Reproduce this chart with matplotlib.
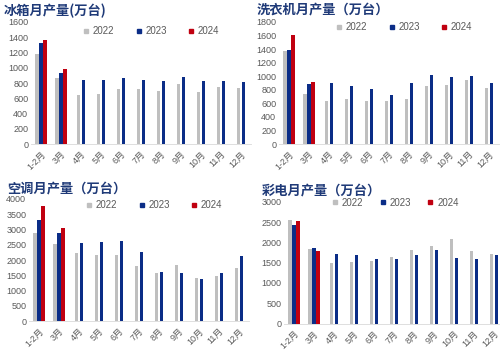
import numpy as np
import matplotlib
matplotlib.use("Agg")
import matplotlib.pyplot as plt
from matplotlib.lines import Line2D

plt.rcParams['font.family'] = ['Liberation Sans', 'Noto Sans CJK SC', 'DejaVu Sans']

# 数据 (万台)
months = ["1-2月", "3月", "4月", "5月", "6月", "7月", "8月", "9月", "10月", "11月", "12月"]

fridge_2022 = [1180, 860, 640, 660, 720, 720, 690, 790, 680, 750, 730]
fridge_2023 = [1320, 930, 840, 840, 870, 840, 830, 880, 820, 820, 810]
fridge_2024 = [1370, 980]

washer_2022 = [1370, 740, 630, 670, 640, 640, 670, 860, 870, 940, 820]
washer_2023 = [1390, 890, 900, 860, 810, 720, 900, 1020, 990, 1010, 900]
washer_2024 = [1610, 910]

ac_2022 = [2900, 2520, 2230, 2170, 2180, 1800, 1590, 1830, 1420, 1490, 1750]
ac_2023 = [3320, 2900, 2560, 2590, 2610, 2270, 1620, 1590, 1370, 1570, 2140]
ac_2024 = [3760, 3060]

tv_2022 = [2540, 1840, 1500, 1520, 1530, 1640, 1800, 1920, 2090, 1780, 1720]
tv_2023 = [2420, 1850, 1720, 1680, 1600, 1580, 1700, 1800, 1620, 1580, 1680]
tv_2024 = [2530, 1780]

years = ["2022", "2023", "2024"]
colors = ["#BFBFBF", "#0B2D87", "#C00010"]
title_color = "#1F3A78"
tick_color = "#595959"

panels = [
    # title, series, ylim, step, axes rect, title pos, legend pos, colspacing
    ("冰箱月产量(万台)", (fridge_2022, fridge_2023, fridge_2024), 1600, 200,
     [0.062, 0.593, 0.44, 0.345], (0.008, 0.970), (0.166, 0.912), 2.2),
    ("洗衣机月产量（万台）", (washer_2022, washer_2023, washer_2024), 1800, 200,
     [0.558, 0.593, 0.44, 0.345], (0.514, 0.970), (0.672, 0.924), 2.2),
    ("空调月产量（万台）", (ac_2022, ac_2023, ac_2024), 4000, 500,
     [0.058, 0.093, 0.44, 0.345], (0.014, 0.464), (0.172, 0.421), 2.2),
    ("彩电月产量（万台）", (tv_2022, tv_2023, tv_2024), 3000, 500,
     [0.568, 0.086, 0.44, 0.344], (0.524, 0.458), (0.664, 0.427), 1.7),
]

fig = plt.figure(figsize=(5, 3.54), dpi=100)
x = np.arange(len(months))
w = 0.17

for title, series, ymax, step, rect, tpos, lpos, cs in panels:
    ax = fig.add_axes(rect)
    s22, s23, s24 = series
    for i in range(len(months)):
        vals = [s22[i], s23[i]] + ([s24[i]] if i < len(s24) else [])
        if len(vals) == 3:
            offs = [-0.2, 0.0, 0.2]
        else:
            offs = [-0.13, 0.13]
        for j, v in enumerate(vals):
            ax.bar(x[i] + offs[j], v, width=w, color=colors[j], linewidth=0)
    ax.set_xlim(-0.5, len(months) - 0.5)
    ax.set_ylim(0, ymax)
    ax.set_yticks(np.arange(0, ymax + 1, step))
    ax.set_xticks(x)
    ax.set_xticklabels(months, rotation=45, ha="right", rotation_mode="anchor")
    ax.tick_params(axis="both", length=0, labelsize=6.5, colors=tick_color, pad=2)
    ax.tick_params(axis="x", pad=4)
    for sp in ["top", "right", "left"]:
        ax.spines[sp].set_visible(False)
    ax.spines["bottom"].set_color("#D9D9D9")
    ax.spines["bottom"].set_linewidth(0.6)
    fig.text(tpos[0], tpos[1], title, fontsize=9.5, fontweight="bold",
             color=title_color, va="center", ha="left",
             family=['Noto Sans CJK SC', 'DejaVu Sans'])
    handles = [Line2D([], [], marker="s", linestyle="none", markersize=3.5,
                      markerfacecolor=c, markeredgecolor=c) for c in colors]
    leg = ax.legend(handles, years, ncol=3, loc="center left",
                    bbox_to_anchor=lpos, bbox_transform=fig.transFigure,
                    frameon=False, fontsize=7, handlelength=0.6,
                    handletextpad=0.4, columnspacing=cs, borderpad=0,
                    borderaxespad=0)
    for t in leg.get_texts():
        t.set_color(tick_color)

fig.savefig("out.png", dpi=100)
